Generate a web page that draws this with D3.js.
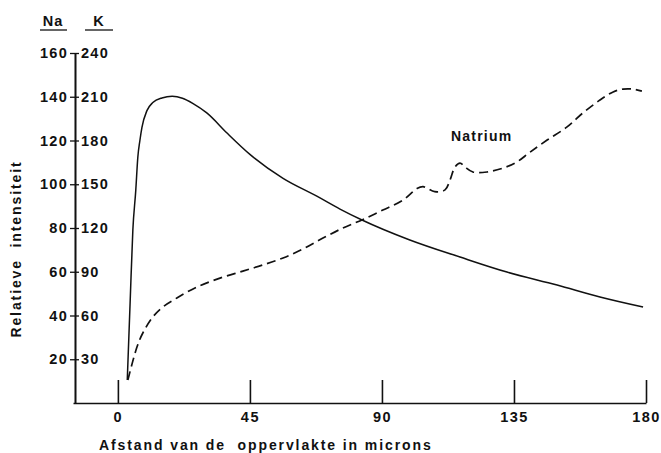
<!DOCTYPE html>
<html>
<head>
<meta charset="utf-8">
<script src="https://cdn.jsdelivr.net/npm/d3@7"></script>
<style>
  html, body { margin: 0; padding: 0; background: #fff; }
  svg { display: block; }
  text { font-family: "Liberation Sans", Arial, Helvetica, sans-serif; fill: #111; }
</style>
</head>
<body>
<svg id="chart" width="661" height="453"></svg>
<script>
// ---- data ----
const xTicks = [0, 45, 90, 135, 180];
const naTicks = [20, 40, 60, 80, 100, 120, 140, 160];
const kTicks = [30, 60, 90, 120, 150, 180, 210, 240];

// Kalium (solid), values on K axis
const kaliumX = [3.2, 4.2, 5.1, 6.1, 6.8, 7.5, 8.2, 9.9, 11.9, 15.0, 18.5, 22.0, 25.5, 30.3, 37.2, 45.0, 56.3, 67.8, 75.7, 83.2, 99.5, 116.6, 132.6, 149.7, 164.3, 179.0];
const kaliumY = [15.8, 70.6, 118.6, 146, 168.7, 180, 189, 200.5, 206.0, 209.2, 210.3, 209.0, 205.5, 198.9, 185.1, 170.5, 154.0, 141.8, 133.0, 125.5, 111.8, 100.1, 89.8, 80.9, 72.7, 65.8];

// Natrium (dashed), values on Na axis
const natriumX = [3.4, 6.5, 8.5, 11.9, 15.3, 20.1, 26.9, 34.8, 42.6, 49.4, 56.3, 63.1, 69.9, 76.7, 83.2, 90.3, 97.2, 101.9, 104.0, 108.0, 111.5, 113.2, 114.9, 116.6, 118.3, 121.0, 125.8, 131.3, 136.0, 140.5, 146.3, 153.1, 158.5, 164.3, 168.8, 172.2, 175.6, 178.6];
const natriumY = [10.5, 25.6, 32.0, 39.3, 43.9, 48.0, 53.0, 57.1, 60.3, 63.1, 66.3, 70.4, 75.4, 80.0, 83.7, 88.2, 92.8, 98.0, 98.9, 96.6, 97.4, 101.9, 107.9, 109.7, 107.9, 105.6, 105.6, 107.4, 110.2, 114.7, 120.2, 126.2, 132.6, 138.5, 142.2, 143.5, 143.5, 142.6];

const seriesLabel = "Natrium";
const xTitle = "Afstand van de  oppervlakte in microns";
const yTitle = "Relatieve  intensiteit";

// ---- scales ----
const svg = d3.select("#chart");
const x = d3.scaleLinear().domain([-15.3, 180]).range([73, 646]);
const yNa = d3.scaleLinear().domain([0, 160]).range([403, 53]);
const yK = d3.scaleLinear().domain([0, 240]).range([403, 53]);
const axisX = 75;
const FS = 14.5;

// ---- x axis ----
const gx = svg.append("g").attr("transform", `translate(0,${yNa(0)})`)
  .call(d3.axisBottom(x).tickValues(xTicks).tickSize(-23).tickSizeOuter(0).tickPadding(9).tickFormat(d3.format("d")));
gx.select(".domain").attr("stroke", "#111").attr("stroke-width", 1.6);
gx.selectAll(".tick line").attr("stroke", "#111").attr("stroke-width", 1.6);
gx.selectAll(".tick text").attr("font-size", FS).attr("font-weight", "bold").attr("letter-spacing", 1.5).attr("fill", "#111");

// ---- y axes ----
const gNa = svg.append("g").attr("transform", `translate(${axisX},0)`)
  .call(d3.axisLeft(yNa).tickValues(naTicks).tickSize(5).tickSizeOuter(0).tickPadding(2));
const gK = svg.append("g").attr("transform", `translate(${axisX},0)`)
  .call(d3.axisRight(yK).tickValues(kTicks).tickSize(4).tickSizeOuter(0).tickPadding(2));
[gNa, gK].forEach(g => {
  g.select(".domain").attr("stroke", "#111").attr("stroke-width", 1.6);
  g.selectAll(".tick line").attr("stroke", "#111").attr("stroke-width", 1.3);
  g.selectAll(".tick text").attr("font-size", FS).attr("font-weight", "bold").attr("letter-spacing", 1.3).attr("fill", "#111");
});

// ---- headers ----
const headers = [{t: "Na", cx: 53}, {t: "K", cx: 99}];
headers.forEach(h => {
  svg.append("text").attr("x", h.cx).attr("y", 26).attr("text-anchor", "middle")
    .attr("font-size", FS).attr("font-weight", "bold").attr("letter-spacing", 1).text(h.t);
});
svg.append("line").attr("x1", 40).attr("x2", 67).attr("y1", 30).attr("y2", 30).attr("stroke", "#111").attr("stroke-width", 1.3);
svg.append("line").attr("x1", 85).attr("x2", 113).attr("y1", 30).attr("y2", 30).attr("stroke", "#111").attr("stroke-width", 1.3);

// ---- lines ----
const lineK = d3.line().x(d => x(d[0])).y(d => yK(d[1])).curve(d3.curveMonotoneX);
const lineNa = d3.line().x(d => x(d[0])).y(d => yNa(d[1])).curve(d3.curveCatmullRom.alpha(0.5));

svg.append("path").datum(d3.zip(kaliumX, kaliumY)).attr("d", lineK)
  .attr("fill", "none").attr("stroke", "#111").attr("stroke-width", 1.5);
svg.append("path").datum(d3.zip(natriumX, natriumY)).attr("d", lineNa)
  .attr("fill", "none").attr("stroke", "#111").attr("stroke-width", 1.7).attr("stroke-dasharray", "9,5");

// ---- labels ----
svg.append("text").attr("x", 451).attr("y", 141).attr("font-size", FS - 0.5).attr("font-weight", "bold")
  .attr("letter-spacing", 1.2).text(seriesLabel);

svg.append("text").attr("x", 99).attr("y", 450).attr("font-size", FS - 0.5).attr("font-weight", "bold")
  .attr("letter-spacing", 1.9).style("white-space", "pre").text(xTitle);

svg.append("text").attr("transform", "translate(21,249) rotate(-90)").attr("text-anchor", "middle")
  .attr("font-size", FS - 0.5).attr("font-weight", "bold").attr("letter-spacing", 1.9)
  .style("white-space", "pre").text(yTitle);
</script>
</body>
</html>
